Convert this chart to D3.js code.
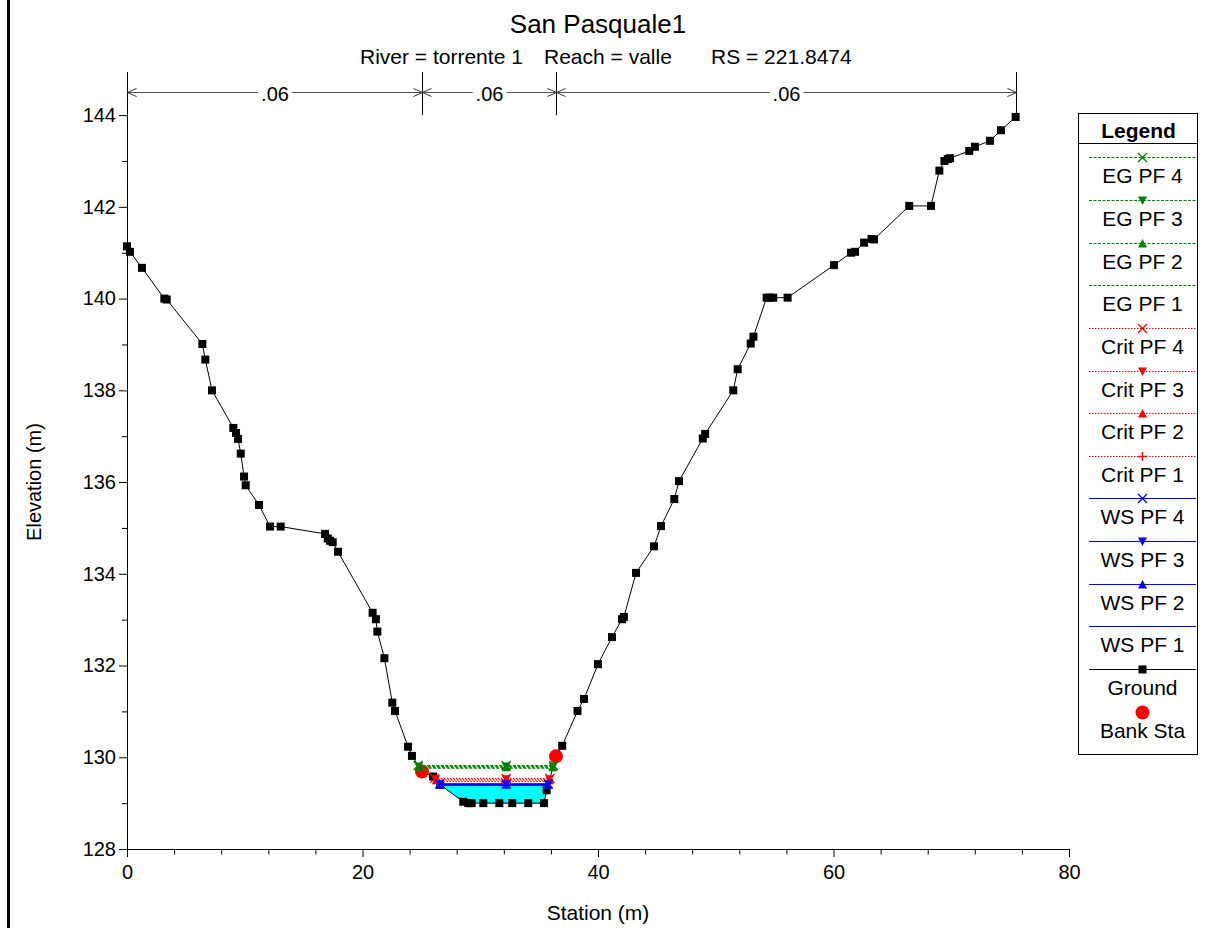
<!DOCTYPE html>
<html><head><meta charset="utf-8">
<script src="https://cdn.jsdelivr.net/npm/d3@7"></script>
<style>
body{margin:0;background:#fff;}
svg{display:block;font-family:Arial,"Liberation Sans",sans-serif;}
</style>
</head><body>
<svg id="chart" width="1214" height="928"></svg>
<script>
// ---------------- DATA ----------------
const titleText = "San Pasquale1";
const subtitleParts = ["River = torrente 1", "Reach = valle", "RS = 221.8474"];
const xLabel = "Station (m)";
const yLabel = "Elevation (m)";

const groundStation = [0, 0.25, 1.27, 3.17, 3.37, 6.4, 6.65, 7.22, 9.03, 9.26, 9.43, 9.66, 9.94, 10.08, 11.21, 12.15, 13.05, 16.82, 17.05, 17.24, 17.47, 17.92, 20.86, 21.14, 21.26, 21.86, 22.53, 22.76, 23.87, 24.2, 25.05, 26.0, 26.6, 28.56, 28.98, 29.27, 30.26, 31.62, 32.72, 34.08, 35.41, 35.64, 36.43, 36.96, 38.26, 38.81, 40.0, 41.19, 42.04, 42.2, 43.23, 44.76, 45.35, 46.48, 46.88, 48.9, 49.1, 51.49, 51.86, 52.97, 53.2, 54.32, 54.6, 54.88, 56.1, 60.04, 61.49, 61.83, 62.6, 63.23, 63.44, 66.43, 68.28, 68.99, 69.42, 69.7, 69.9, 71.53, 72.01, 73.29, 74.22, 75.47];
const groundElev = [141.14, 141.02, 140.67, 140.0, 139.98, 139.01, 138.67, 138.0, 137.18, 137.07, 136.94, 136.62, 136.12, 135.93, 135.5, 135.03, 135.03, 134.87, 134.77, 134.72, 134.69, 134.48, 133.15, 133.01, 132.74, 132.16, 131.19, 131.01, 130.23, 130.03, 129.69, 129.58, 129.4, 129.03, 129.0, 129.0, 129.0, 129.0, 129.0, 129.0, 129.0, 129.28, 130.02, 130.25, 131.01, 131.27, 132.03, 132.62, 133.01, 133.06, 134.02, 134.6, 135.04, 135.63, 136.02, 136.95, 137.05, 138.0, 138.46, 139.02, 139.17, 140.02, 140.02, 140.02, 140.02, 140.73, 141.0, 141.02, 141.22, 141.3, 141.29, 142.02, 142.02, 142.79, 143.0, 143.04, 143.06, 143.22, 143.31, 143.44, 143.67, 143.96];

const bankStations = [25.05, 36.43];
const roughStations = [0, 25.05, 36.43, 75.47];
const roughValues = [".06", ".06", ".06"];
const roughElev = 144.5;

const profiles = ["PF 1", "PF 2", "PF 3", "PF 4"];
const wsElev   = [129.39, 129.40, 129.41, 129.42];
const critElev = [129.47, 129.50, 129.52, 129.54];
const egElev   = [129.76, 129.78, 129.80, 129.82];
const profileMarkers = ["none", "up", "down", "x"];   // PF1..PF4
const critMarkers    = ["plus", "up", "down", "x"];
const midMarkerStation = 32.2;

const xTicks = [0, 20, 40, 60, 80];
const xMinorTicks = [4, 8, 12, 16, 24, 28, 32, 36, 44, 48, 52, 56, 64, 68, 72, 76];
const yTicks = [128, 130, 132, 134, 136, 138, 140, 142, 144];
const yMinorTicks = [129, 131, 133, 135, 137, 139, 141, 143];

const legendTitle = "Legend";

// ---------------- SETUP ----------------
const svg = d3.select("#chart");
const x = d3.scaleLinear().domain([0, 80]).range([127, 1069]);
const y = d3.scaleLinear().domain([128, 144.94]).range([849, 72]);

const colors = { eg: "#008000", crit: "#ff0000", ws: "#0000ff", ground: "#000000", fill: "#00ffff", bank: "#ff0000" };

// left window frame
svg.append("rect").attr("x", 7).attr("y", 0).attr("width", 3).attr("height", 928).attr("fill", "#000");

// titles
svg.append("text").attr("x", 598).attr("y", 33).attr("text-anchor", "middle")
  .attr("font-size", 26).text(titleText);
const subX = [360, 544, 711];
subtitleParts.forEach((t, i) => {
  svg.append("text").attr("x", subX[i]).attr("y", 64).attr("font-size", 21).text(t);
});

// ---------------- AXES ----------------
svg.append("g").attr("transform", `translate(0,${y(128)})`)
  .call(d3.axisBottom(x).tickValues(xTicks).tickSize(8).tickSizeOuter(0).tickPadding(8).tickFormat(d3.format("d")));
svg.append("g").attr("transform", `translate(0,${y(128)})`)
  .call(d3.axisBottom(x).tickValues(xMinorTicks).tickSize(5.5).tickSizeOuter(0).tickFormat(""))
  .select(".domain").remove();
svg.append("g").attr("transform", `translate(${x(0)},0)`)
  .call(d3.axisLeft(y).tickValues(yTicks).tickSize(8).tickSizeOuter(0).tickPadding(3).tickFormat(d3.format("d")));
svg.append("g").attr("transform", `translate(${x(0)},0)`)
  .call(d3.axisLeft(y).tickValues(yMinorTicks).tickSize(5).tickSizeOuter(0).tickFormat(""))
  .select(".domain").remove();
svg.selectAll(".tick text").attr("font-size", 20).attr("font-family", "Arial, 'Liberation Sans', sans-serif").attr("fill", "#000");
svg.selectAll(".domain, .tick line").attr("stroke", "#000");

svg.append("text").attr("x", 598).attr("y", 920).attr("text-anchor", "middle").attr("font-size", 21).text(xLabel);
svg.append("text").attr("transform", `translate(41,482) rotate(-90)`).attr("text-anchor", "middle")
  .attr("font-size", 20).text(yLabel);

// ---------------- ROUGHNESS ----------------
const rg = svg.append("g");
const ry = Math.round(y(roughElev)) + 0.5;
roughStations.forEach(s => {
  const xs = Math.round(x(s)) + 0.5;
  rg.append("line").attr("x1", xs).attr("x2", xs).attr("y1", y(144.0)).attr("y2", y(144.94))
    .attr("stroke", "#000").attr("stroke-width", 1);
});
roughValues.forEach((v, i) => {
  const x0 = Math.round(x(roughStations[i])) + 0.5, x1 = Math.round(x(roughStations[i + 1])) + 0.5;
  rg.append("line").attr("x1", x0).attr("x2", x1).attr("y1", ry).attr("y2", ry).attr("stroke", "#555").attr("stroke-width", 1);
  rg.append("path").attr("d", `M${x0 + 9},${ry - 4}L${x0},${ry}L${x0 + 9},${ry + 4}`).attr("fill", "none").attr("stroke", "#333");
  rg.append("path").attr("d", `M${x1 - 9},${ry - 4}L${x1},${ry}L${x1 - 9},${ry + 4}`).attr("fill", "none").attr("stroke", "#333");
  const t = rg.append("text").attr("x", (x0 + x1) / 2).attr("y", ry + 8).attr("text-anchor", "middle")
    .attr("font-size", 20).text(v);
  const bb = t.node().getBBox();
  rg.insert("rect", "text:last-of-type").attr("x", bb.x - 3).attr("y", ry - 3).attr("width", bb.width + 6).attr("height", 6).attr("fill", "#fff");
});

// ---------------- PROFILE HELPERS ----------------
const ground = groundStation.map((s, i) => ({ s, e: groundElev[i] }));
const channel = ground.filter(d => d.s >= bankStations[0] && d.s <= bankStations[1]);
const minPt = channel.reduce((a, b) => (b.e < a.e ? b : a));
const minIdx = ground.indexOf(minPt);

function extent(level) {
  let i = minIdx;
  while (i > 0 && ground[i].e < level) i--;
  const a = ground[i], b = ground[i + 1];
  const left = a.s + (level - a.e) / (b.e - a.e) * (b.s - a.s);
  let j = minIdx;
  while (j < ground.length - 1 && ground[j].e < level) j++;
  const c = ground[j - 1], d = ground[j];
  const right = c.s + (level - c.e) / (d.e - c.e) * (d.s - c.s);
  return [left, right];
}
function groundAt(s) {
  for (let i = 0; i < ground.length - 1; i++) {
    if (s >= ground[i].s && s <= ground[i + 1].s) {
      const a = ground[i], b = ground[i + 1];
      return a.e + (s - a.s) / (b.s - a.s) * (b.e - a.e);
    }
  }
  return ground[ground.length - 1].e;
}

// water fill (highest WS)
const topWS = d3.max(wsElev);
const [fl, fr] = extent(topWS);
const fillPts = [{ s: fl, e: topWS }].concat(ground.filter(d => d.s > fl && d.s < fr)).concat([{ s: fr, e: topWS }]);
svg.append("path").datum(fillPts)
  .attr("d", d3.area().x(d => x(d.s)).y0(d => y(d.e)).y1(y(topWS)))
  .attr("fill", colors.fill);

// ground line
svg.append("path").datum(ground)
  .attr("d", d3.line().x(d => x(d.s)).y(d => y(d.e)))
  .attr("fill", "none").attr("stroke", colors.ground).attr("stroke-width", 1);
svg.append("g").selectAll("rect").data(ground).join("rect")
  .attr("x", d => x(d.s) - 4).attr("y", d => y(d.e) - 4).attr("width", 8).attr("height", 8).attr("fill", "#000");

// bank stations
svg.append("g").selectAll("circle").data(bankStations).join("circle")
  .attr("cx", d => x(d)).attr("cy", d => y(groundAt(d))).attr("r", 7).attr("fill", colors.bank);

// marker drawing
function drawMarker(g, type, cx, cy, color) {
  const s = 4.5;
  if (type === "x") {
    g.append("path").attr("d", `M${cx - s},${cy - s}L${cx + s},${cy + s}M${cx - s},${cy + s}L${cx + s},${cy - s}`)
      .attr("stroke", color).attr("stroke-width", 1.3).attr("fill", "none");
  } else if (type === "plus") {
    g.append("path").attr("d", `M${cx - s},${cy}L${cx + s},${cy}M${cx},${cy - s}L${cx},${cy + s}`)
      .attr("stroke", color).attr("stroke-width", 1.5).attr("fill", "none");
  } else if (type === "up") {
    g.append("path").attr("d", `M${cx - s},${cy + s - 0.5}L${cx + s},${cy + s - 0.5}L${cx},${cy - s}Z`).attr("fill", color);
  } else if (type === "down") {
    g.append("path").attr("d", `M${cx - s},${cy - s + 0.5}L${cx + s},${cy - s + 0.5}L${cx},${cy + s}Z`).attr("fill", color);
  }
}

const profileSets = [
  { key: "eg", levels: egElev, markers: profileMarkers, dash: "3,1.5", width: 1 },
  { key: "crit", levels: critElev, markers: critMarkers, dash: "1.5,1.5", width: 1 },
  { key: "ws", levels: wsElev, markers: profileMarkers, dash: null, width: 1.2 }
];
const markerLayer = [];
profileSets.forEach(set => {
  set.levels.forEach((lv, k) => {
    const [l, r] = extent(lv);
    const ln = svg.append("line").attr("x1", x(l)).attr("x2", x(r)).attr("y1", y(lv)).attr("y2", y(lv))
      .attr("stroke", colors[set.key]).attr("stroke-width", set.width);
    if (set.dash) ln.attr("stroke-dasharray", set.dash);
    markerLayer.push({ type: set.markers[k], pts: [l, midMarkerStation, r], lv, color: colors[set.key] });
  });
});
const mg = svg.append("g");
markerLayer.forEach(m => m.pts.forEach(p => drawMarker(mg, m.type, x(p), y(m.lv), m.color)));

// ---------------- LEGEND ----------------
const legendEntries = [];
[3, 2, 1, 0].forEach(k => legendEntries.push({ label: "EG " + profiles[k], color: colors.eg, dash: "3,1.5", marker: profileMarkers[k] }));
[3, 2, 1, 0].forEach(k => legendEntries.push({ label: "Crit " + profiles[k], color: colors.crit, dash: "1.5,1.5", marker: critMarkers[k] }));
[3, 2, 1, 0].forEach(k => legendEntries.push({ label: "WS " + profiles[k], color: colors.ws, dash: null, marker: profileMarkers[k] }));
legendEntries.push({ label: "Ground", color: "#000", dash: null, marker: "square" });
legendEntries.push({ label: "Bank Sta", color: colors.bank, dash: null, marker: "circle" });

const lg = svg.append("g");
const LX0 = 1078, LX1 = 1197, LY0 = 113, LY1 = 754;
lg.append("rect").attr("x", LX0 + 0.5).attr("y", LY0 + 0.5).attr("width", LX1 - LX0).attr("height", LY1 - LY0)
  .attr("fill", "#fff").attr("stroke", "#000");
lg.append("text").attr("x", (LX0 + LX1) / 2 + 1).attr("y", 138).attr("text-anchor", "middle")
  .attr("font-size", 21).attr("font-weight", "bold").text(legendTitle);
lg.append("line").attr("x1", LX0).attr("x2", LX1).attr("y1", 143.5).attr("y2", 143.5).attr("stroke", "#000");
const lcx = 1142.5;
legendEntries.forEach((e, i) => {
  const lyRaw = 157.3 + i * 42.64;
  const ly = Math.round(lyRaw) + 0.5;
  if (e.marker === "circle") {
    lg.append("circle").attr("cx", lcx).attr("cy", ly).attr("r", 7).attr("fill", e.color);
  } else {
    const l = lg.append("line").attr("x1", 1089).attr("x2", 1196).attr("y1", ly).attr("y2", ly)
      .attr("stroke", e.color).attr("stroke-width", 1);
    if (e.dash) l.attr("stroke-dasharray", e.dash);
    if (e.marker === "square") {
      lg.append("rect").attr("x", lcx - 4).attr("y", ly - 4).attr("width", 8).attr("height", 8).attr("fill", "#000");
    } else {
      drawMarker(lg, e.marker, lcx, ly, e.color);
    }
  }
  lg.append("text").attr("x", lcx).attr("y", Math.round(lyRaw) + 26).attr("text-anchor", "middle").attr("font-size", 21).text(e.label);
});
</script>
</body></html>
